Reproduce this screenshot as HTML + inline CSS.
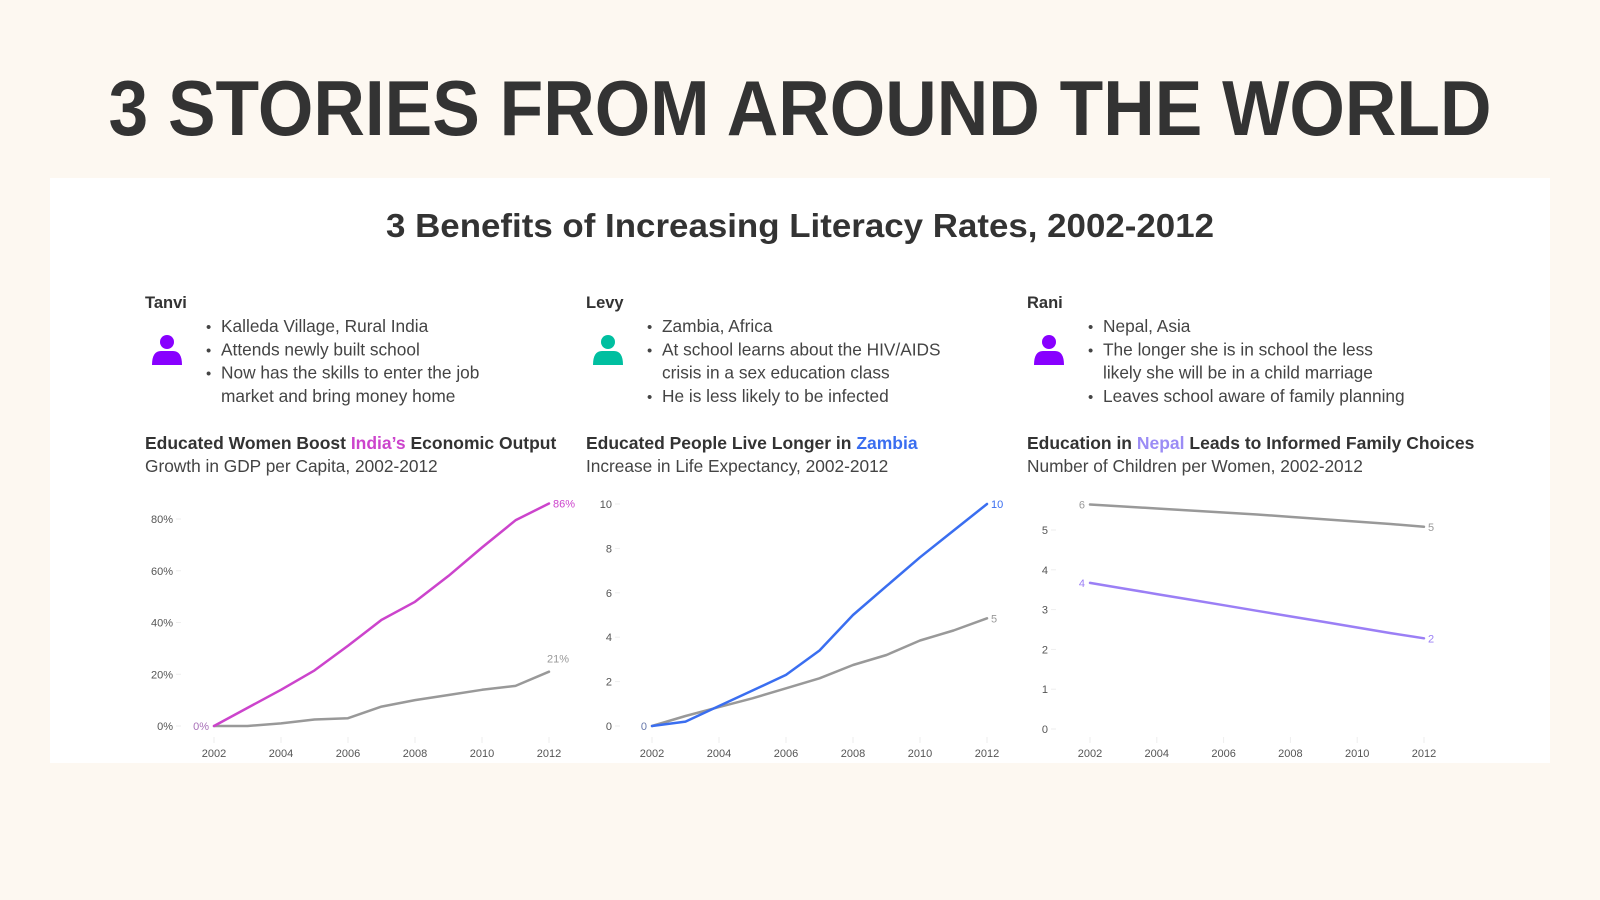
<!DOCTYPE html>
<html><head><meta charset="utf-8">
<style>
html,body{margin:0;padding:0;background:#fdf8f1;}
svg{display:block;font-family:"Liberation Sans",sans-serif;}
</style></head>
<body>
<svg id="root" width="1600" height="900" viewBox="0 0 1600 900">
  <rect x="0" y="0" width="1600" height="900" fill="#fdf8f1"/>
  <text x="800" y="135" text-anchor="middle" font-size="78" font-weight="bold" fill="#333" textLength="1383" lengthAdjust="spacingAndGlyphs">3 STORIES FROM AROUND THE WORLD</text>
  <rect x="50" y="178" width="1500" height="585" fill="#fff"/>
  <text x="800" y="237" text-anchor="middle" font-size="33" font-weight="bold" fill="#333" textLength="828" lengthAdjust="spacingAndGlyphs">3 Benefits of Increasing Literacy Rates, 2002-2012</text>
  <g id="cards"></g>
  <g id="charts"></g>
</svg>
<script>
// ---- data ----
const years = [2002,2003,2004,2005,2006,2007,2008,2009,2010,2011,2012];
const xTicks = [2002,2004,2006,2008,2010,2012];
const indiaEducated = [0,7,14,21.5,31,41,48,58,69,79.5,86];
const indiaOverall = [0,0,1,2.5,3,7.5,10,12,14,15.5,21];
const indiaTicks = [0,20,40,60,80];
const zambiaEducated = [0,0.2,0.9,1.6,2.3,3.4,5,6.3,7.6,8.8,10];
const zambiaOverall = [0,0.45,0.85,1.25,1.7,2.15,2.75,3.2,3.85,4.3,4.85];
const zambiaTicks = [0,2,4,6,8,10];
const nepalOverall = [5.64,5.59,5.54,5.49,5.44,5.39,5.33,5.27,5.21,5.15,5.08];
const nepalEducated = [3.67,3.53,3.39,3.25,3.11,2.97,2.83,2.69,2.55,2.41,2.28];
const nepalTicks = [0,1,2,3,4,5];

const NS="http://www.w3.org/2000/svg";
function mk(tag, attrs, parent, txt){
  const e=document.createElementNS(NS,tag);
  for(const k in attrs) e.setAttribute(k,attrs[k]);
  if(txt!==undefined) e.textContent=txt;
  parent.appendChild(e); return e;
}

// ---- cards ----
const cardsG=document.getElementById('cards');
const cards=[
 {x:145,name:'Tanvi',icon:'#8800ff',bullets:[['Kalleda Village, Rural India'],['Attends newly built school'],['Now has the skills to enter the job','market and bring money home']],
  title:['Educated Women Boost ','India’s',' Economic Output'],hc:'#cc44cc',sub:'Growth in GDP per Capita, 2002-2012'},
 {x:586,name:'Levy',icon:'#00bfa0',bullets:[['Zambia, Africa'],['At school learns about the HIV/AIDS','crisis in a sex education class'],['He is less likely to be infected']],
  title:['Educated People Live Longer in ','Zambia',''],hc:'#3a6ef0',sub:'Increase in Life Expectancy, 2002-2012'},
 {x:1027,name:'Rani',icon:'#8800ff',bullets:[['Nepal, Asia'],['The longer she is in school the less','likely she will be in a child marriage'],['Leaves school aware of family planning']],
  title:['Education in ','Nepal',' Leads to Informed Family Choices'],hc:'#9b8cf5',sub:'Number of Children per Women, 2002-2012'}
];
cards.forEach((c,i)=>{
  const g=mk('g',{},cardsG);
  
  
  const n=mk('text',{x:c.x,y:308,'font-size':16.5,'font-weight':'bold',fill:'#333'},g,c.name);
  
  
  const ic=mk('g',{fill:c.icon},g);
  
  
  const cx=c.x+22;
  mk('circle',{cx:cx,cy:342,r:7},ic);
  mk('path',{d:`M${cx-15} 365 Q${cx-15} 351 ${cx-6} 351 L${cx+6} 351 Q${cx+15} 351 ${cx+15} 365 Z`},ic);
  let y=332;
  c.bullets.forEach(b=>{
    const bg=mk('g',{},g);
    
    
    mk('text',{x:c.x+61,y:y,'font-size':15,fill:'#444'},bg,'•');
    b.forEach(line=>{ mk('text',{x:c.x+76,y:y,'font-size':17.3,fill:'#444'},bg,line); y+=23.3; });
  });
  const t=mk('text',{x:c.x,y:449,'font-size':17.5,'font-weight':'bold',fill:'#333'},g);
  
  
  mk('tspan',{},t,c.title[0]); mk('tspan',{fill:c.hc},t,c.title[1]); mk('tspan',{},t,c.title[2]);
  const s=mk('text',{x:c.x,y:472,'font-size':17.3,fill:'#444'},g,c.sub);
  
  
});

// ---- charts ----
const chartsG=document.getElementById('charts');
function chart(o){
  const g=mk('g',{},chartsG);
  
  
  const X=v=>o.x0+(v-years[0])/(years[years.length-1]-years[0])*(o.x1-o.x0);
  const Y=v=>o.y0-(v-o.ymin)/(o.ymax-o.ymin)*(o.y0-o.y1);
  o.yt.forEach(v=>{
    const t=mk('text',{x:o.ylx,y:Y(v)+4,'text-anchor':'end','font-size':11,fill:'#555'},g,v+o.suf);
    
    
    mk('line',{x1:o.ylx+3,x2:o.ylx+8,y1:Y(v),y2:Y(v),stroke:'#eee'},g);
  });
  xTicks.forEach(v=>{
    mk('line',{x1:X(v),x2:X(v),y1:o.xly-20,y2:o.xly-14,stroke:'#eee'},g);
    const t=mk('text',{x:X(v),y:o.xly,'text-anchor':'middle','font-size':11,fill:'#555'},g,v);
    
    
  });
  o.series.forEach(s=>{
    const d=s.vals.map((v,i)=>(i?'L':'M')+X(years[i]).toFixed(1)+' '+Y(v).toFixed(1)).join(' ');
    const p=mk('path',{d:d,fill:'none',stroke:s.color,'stroke-width':2.5,'stroke-linejoin':'round','stroke-linecap':'round'},g);
    
    
    const last=s.vals[s.vals.length-1], first=s.vals[0];
    if(s.startLabel){
      const t=mk('text',{x:X(years[0])-5,y:Y(first)+4,'text-anchor':'end','font-size':11,fill:s.lc||s.color},g,s.fmt(first));
      
      
    }
    const t=mk('text',{x:X(years[years.length-1])+(s.above?-2:4),y:Y(last)+(s.above?-9:4),'text-anchor':'start','font-size':11,fill:s.color},g,s.fmt(last));
    
    
  });
}
const pct=v=>Math.round(v)+'%', rnd=v=>String(Math.round(v));
chart({name:'india-gdp-chart',x0:214,x1:549,y0:726,y1:519,ymin:0,ymax:80,yt:indiaTicks,suf:'%',ylx:173,xly:757,
  series:[{name:'india-overall-line',vals:indiaOverall,color:'#999',fmt:pct,above:true},
          {name:'india-educated-line',vals:indiaEducated,color:'#cc44cc',fmt:pct,startLabel:true,lc:'#a870b8'}]});
chart({name:'zambia-life-chart',x0:652,x1:987,y0:726,y1:504,ymin:0,ymax:10,yt:zambiaTicks,suf:'',ylx:612,xly:757,
  series:[{name:'zambia-overall-line',vals:zambiaOverall,color:'#999',fmt:rnd},
          {name:'zambia-educated-line',vals:zambiaEducated,color:'#3a6ef0',fmt:rnd,startLabel:true,lc:'#6677aa'}]});
chart({name:'nepal-children-chart',x0:1090,x1:1424,y0:729,y1:530,ymin:0,ymax:5,yt:nepalTicks,suf:'',ylx:1048,xly:757,
  series:[{name:'nepal-overall-line',vals:nepalOverall,color:'#999',fmt:rnd,startLabel:true},
          {name:'nepal-educated-line',vals:nepalEducated,color:'#9b7ff5',fmt:rnd,startLabel:true}]});
</script>
</body></html>
